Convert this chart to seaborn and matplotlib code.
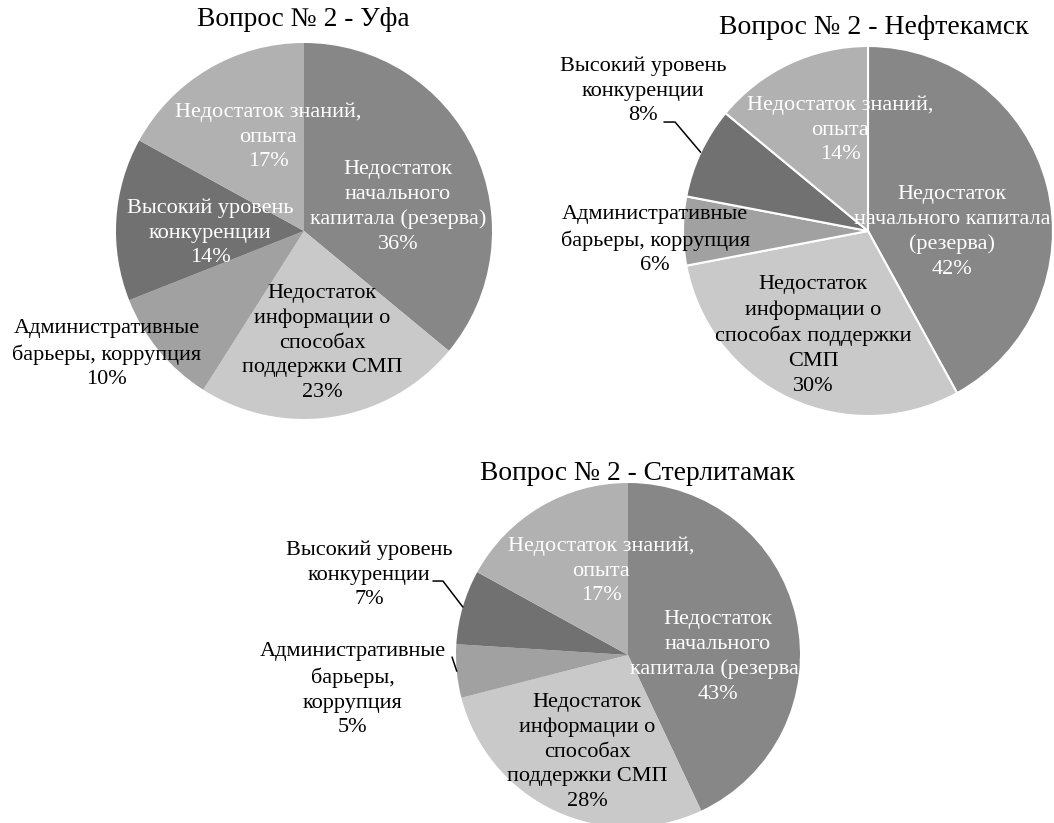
import numpy as np
import matplotlib
matplotlib.use("Agg")
import matplotlib.pyplot as plt
import seaborn as sns

sns.set_theme(style="white")
plt.rcParams['font.family'] = ['Liberation Serif', 'DejaVu Serif']

# ---------------- data ----------------
categories = [
    "Недостаток\nначального\nкапитала (резерва)",
    "Недостаток\nинформации о\nспособах\nподдержки СМП",
    "Административные\nбарьеры, коррупция",
    "Высокий уровень\nконкуренции",
    "Недостаток знаний,\nопыта",
]
ufa_values = [36, 23, 10, 14, 17]
neft_values = [42, 30, 6, 8, 14]
sterl_values = [43, 28, 5, 7, 17]

ufa_labels = categories
neft_labels = [
    "Недостаток\nначального капитала\n(резерва)",
    "Недостаток\nинформации о\nспособах поддержки\nСМП",
    "Административные\nбарьеры, коррупция",
    "Высокий уровень\nконкуренции",
    "Недостаток знаний,\nопыта",
]
sterl_labels = [
    "Недостаток\nначального\nкапитала (резерва)",
    "Недостаток\nинформации о\nспособах\nподдержки СМП",
    "Административные\nбарьеры,\nкоррупция",
    "Высокий уровень\nконкуренции",
    "Недостаток знаний,\nопыта",
]
titles = ["Вопрос № 2 - Уфа", "Вопрос № 2 - Нефтекамск", "Вопрос № 2 - Стерлитамак"]

# ---------------- style / layout ----------------
colors = ["#878787", "#c9c9c9", "#a1a1a1", "#717171", "#b1b1b1"]

W, H, DPI = 1054, 823, 100
fig = plt.figure(figsize=(W / DPI, H / DPI), dpi=DPI)
fig.patch.set_facecolor("white")

FS = 16
LS = 1.40

charts = [
    dict(values=ufa_values, labels=ufa_labels, title=titles[0], cx=304, cy=231, r=188,
         title_xy=(303, 20), tfs=19.7, edge=0,
         pos=[(0.50, 0.128), (0.096, -0.596), (-1.048, -0.654), (-0.50, -0.01), (-0.19, 0.50)],
         tcol=["white", "black", "black", "white", "white"],
         leaders={}, clip_first=False),
    dict(values=neft_values, labels=neft_labels, title=titles[1], cx=868, cy=231, r=185,
         title_xy=(874, 27), tfs=20, edge=1.5,
         pos=[(0.454, -0.005), (-0.297, -0.565), (-1.151, -0.049), (-1.216, 0.757), (-0.151, 0.546)],
         tcol=["white", "black", "black", "black", "white"],
         leaders={3: [(-1.103, 0.589), (-1.043, 0.589)]}, clip_first=False),
    dict(values=sterl_values, labels=sterl_labels, title=titles[2], cx=628, cy=655, r=172,
         title_xy=(637, 473), tfs=19.8, edge=0,
         pos=[(0.523, -0.012), (-0.238, -0.564), (-1.599, -0.203), (-1.506, 0.465), (-0.157, 0.488)],
         tcol=["white", "black", "black", "black", "white"],
         leaders={3: [(-1.134, 0.430), (-1.076, 0.430)], 2: [(-1.023, -0.012)]},
         clip_first=True),
]

for ch in charts:
    cx, cy, r = ch["cx"], ch["cy"], ch["r"]
    ax = fig.add_axes([(cx - r) / W, 1 - (cy + r) / H, 2 * r / W, 2 * r / H])
    wedges, _ = ax.pie(ch["values"], colors=colors, startangle=90, counterclock=False,
                       radius=1.0,
                       wedgeprops=dict(edgecolor="white", linewidth=ch["edge"]))
    ax.set_xlim(-1, 1)
    ax.set_ylim(-1, 1)
    ax.set_aspect("auto")
    ax.axis("off")

    for i, (lab, val) in enumerate(zip(ch["labels"], ch["values"])):
        x, y = ch["pos"][i]
        t = ax.text(x, y, f"{lab}\n{val}%", ha="center", va="center", fontsize=FS,
                    color=ch["tcol"][i], linespacing=LS, clip_on=False)
        if ch["clip_first"] and i == 0:
            t.set_clip_on(True)
            t.set_clip_box(ax.bbox)

    for i, pts in ch["leaders"].items():
        w = wedges[i]
        mid = np.deg2rad((w.theta1 + w.theta2) / 2)
        pts = list(pts) + [(np.cos(mid), np.sin(mid))]
        xs, ys = zip(*pts)
        ax.plot(xs, ys, color="black", lw=1.1, clip_on=False)

    tx, ty = ch["title_xy"]
    fig.text(tx / W, 1 - ty / H, ch["title"], ha="center", va="center", fontsize=ch["tfs"],
             color="black")

fig.savefig("out.png", dpi=DPI, facecolor="white")
